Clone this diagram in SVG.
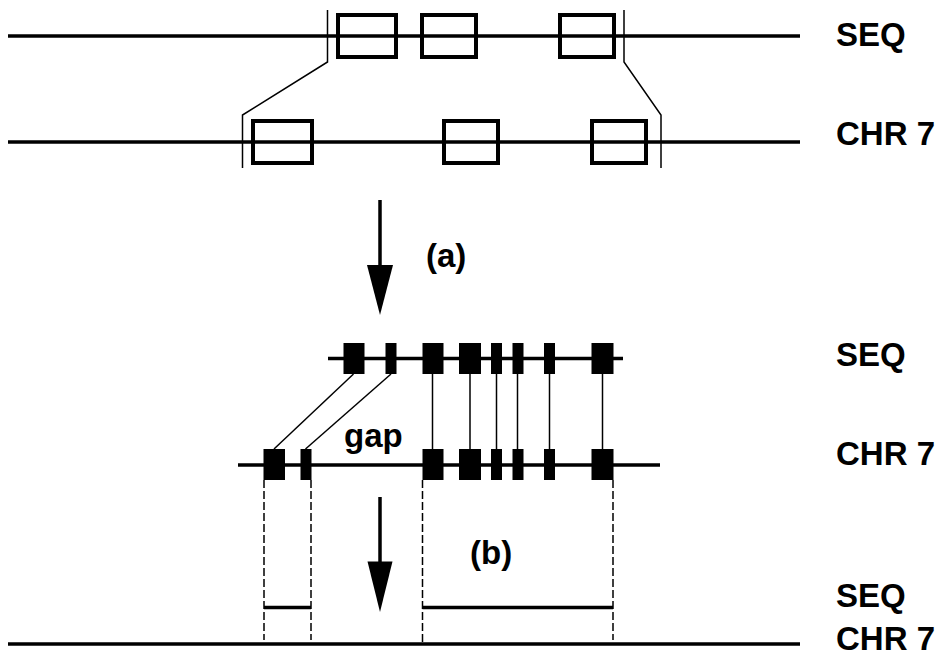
<svg xmlns="http://www.w3.org/2000/svg" width="945" height="657" viewBox="0 0 945 657">
<style>
.ln{stroke:#000;stroke-width:3.5;fill:none}
.thin{stroke:#000;stroke-width:1.5;fill:none}
.box{stroke:#000;stroke-width:4;fill:none}
.blk{fill:#000}
.dash{stroke:#000;stroke-width:1.5;fill:none;stroke-dasharray:8 3}
.lbl{font-family:"Liberation Sans",Arial,sans-serif;font-weight:bold;font-size:33px;fill:#000}
</style>
<rect width="945" height="657" fill="#fff"/>
<g id="labels">
<text class="lbl" x="836" y="46">SEQ</text>
<text class="lbl" x="836" y="145">CHR 7</text>
<text class="lbl" x="836" y="366">SEQ</text>
<text class="lbl" x="836" y="465">CHR 7</text>
<text class="lbl" x="836" y="607">SEQ</text>
<text class="lbl" x="836" y="650">CHR 7</text>
<text class="lbl" x="426" y="267">(a)</text>
<text class="lbl" x="470" y="564">(b)</text>
<text class="lbl" x="344" y="447">gap</text>
</g>
<g id="top-seq">
<line class="ln" x1="8" y1="36" x2="800" y2="36"/>
<rect class="box" x="338" y="15" width="58" height="42"/>
<rect class="box" x="422" y="15" width="54" height="42"/>
<rect class="box" x="560" y="15" width="54" height="42"/>
</g>
<g id="top-chr7">
<line class="ln" x1="8" y1="142" x2="800" y2="142"/>
<rect class="box" x="253" y="121" width="59" height="42"/>
<rect class="box" x="444" y="121" width="54" height="42"/>
<rect class="box" x="592" y="121" width="54" height="42"/>
</g>
<g id="connectors">
<polyline class="thin" points="327.5,10 327.5,62 242.5,115 242.5,168"/>
<polyline class="thin" points="624,10 624,62 661,115 661,168"/>
<line class="ln" x1="380" y1="200" x2="380" y2="268"/>
<polygon class="blk" points="367,265 393,265 380,315"/>
<line class="thin" x1="353.5" y1="374" x2="274" y2="449"/>
<line class="thin" x1="391" y1="374" x2="305.5" y2="449"/>
<line class="thin" x1="432.5" y1="374" x2="432.5" y2="449"/>
<line class="thin" x1="470" y1="374" x2="470" y2="449"/>
<line class="thin" x1="496.5" y1="374" x2="496.5" y2="449"/>
<line class="thin" x1="517.5" y1="374" x2="517.5" y2="449"/>
<line class="thin" x1="549.5" y1="374" x2="549.5" y2="449"/>
<line class="thin" x1="602.5" y1="374" x2="602.5" y2="449"/>
<line class="dash" x1="264" y1="480" x2="264" y2="640"/>
<line class="dash" x1="311" y1="480" x2="311" y2="640"/>
<line class="dash" x1="422.5" y1="480" x2="422.5" y2="642"/>
<line class="dash" x1="613" y1="480" x2="613" y2="640"/>
<line class="ln" x1="380" y1="497" x2="380" y2="565"/>
<polygon class="blk" points="367.5,561.5 392.5,561.5 380,612"/>
</g>
<g id="mid-seq">
<line class="ln" x1="328" y1="358.5" x2="623" y2="358.5"/>
<rect class="blk" x="343.5" y="343" width="21" height="31"/>
<rect class="blk" x="385.5" y="343" width="11" height="31"/>
<rect class="blk" x="422.5" y="343" width="21" height="31"/>
<rect class="blk" x="459" y="343" width="22" height="31"/>
<rect class="blk" x="491" y="343" width="11" height="31"/>
<rect class="blk" x="512.5" y="343" width="11" height="31"/>
<rect class="blk" x="544" y="343" width="11" height="31"/>
<rect class="blk" x="591.5" y="343" width="22" height="31"/>
</g>
<g id="mid-chr7">
<line class="ln" x1="238" y1="465" x2="660" y2="465"/>
<rect class="blk" x="263.5" y="449" width="21.5" height="31"/>
<rect class="blk" x="300.5" y="449" width="11" height="31"/>
<rect class="blk" x="422.5" y="449" width="21" height="31"/>
<rect class="blk" x="459" y="449" width="22" height="31"/>
<rect class="blk" x="491" y="449" width="11" height="31"/>
<rect class="blk" x="512.5" y="449" width="11" height="31"/>
<rect class="blk" x="544" y="449" width="11" height="31"/>
<rect class="blk" x="591.5" y="449" width="22" height="31"/>
</g>
<g id="bottom-seq">
<line class="ln" x1="264" y1="607.5" x2="311" y2="607.5"/>
<line class="ln" x1="422.5" y1="607.5" x2="613" y2="607.5"/>
</g>
<g id="bottom-chr7">
<line class="ln" x1="8" y1="644" x2="800" y2="644"/>
</g>
</svg>
